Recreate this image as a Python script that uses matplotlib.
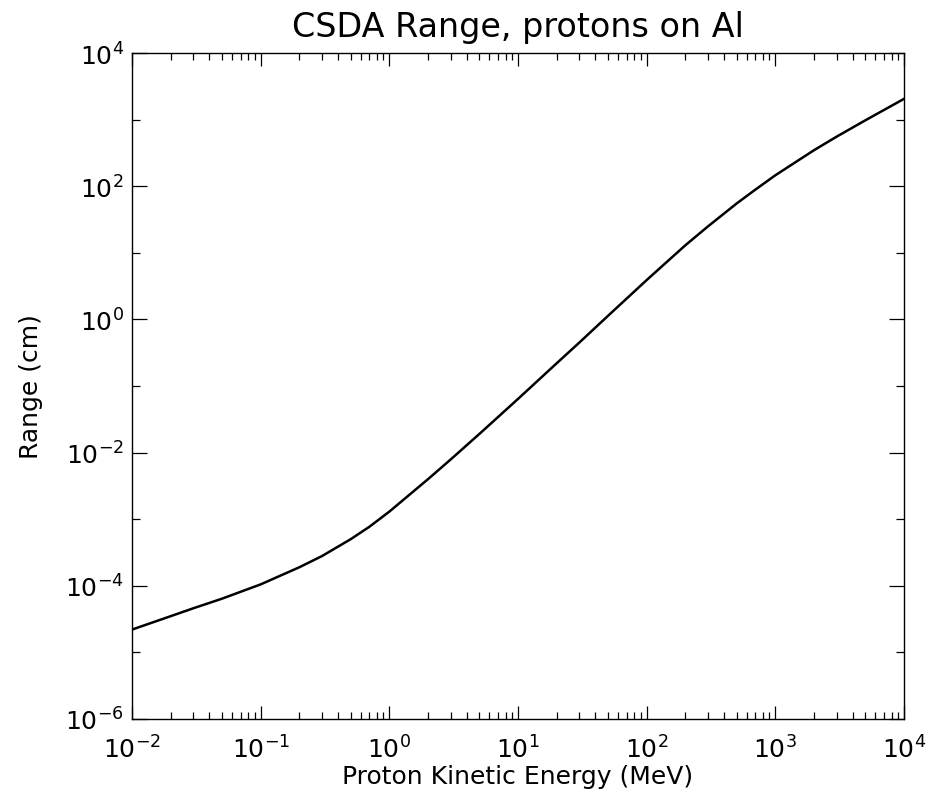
import matplotlib
matplotlib.use("Agg")
import matplotlib.pyplot as plt
from matplotlib.ticker import FixedLocator, LogFormatterSciNotation, NullFormatter

# proton CSDA range in aluminium
energy_mev = [0.01, 0.02, 0.03, 0.05, 0.1, 0.2, 0.3, 0.5, 0.7, 1, 2, 3, 5,
              10, 20, 30, 50, 100, 200, 300, 500, 700, 1000, 2000, 3000,
              5000, 10000]
range_cm = [2.2e-5, 3.5e-5, 4.6e-5, 6.4e-5, 1.05e-4, 1.9e-4, 2.8e-4, 5.0e-4,
            7.7e-4, 1.3e-3, 4.0e-3, 7.9e-3, 1.9e-2, 6.4e-2, 0.22, 0.45, 1.13,
            3.9, 13, 25, 55, 89, 146, 348, 556, 975, 2050]

x_major = [1e-2, 1e-1, 1e0, 1e1, 1e2, 1e3, 1e4]
y_major = [1e-6, 1e-4, 1e-2, 1e0, 1e2, 1e4]
y_minor = [1e-5, 1e-3, 1e-1, 1e1, 1e3]

plt.rcParams["font.family"] = "DejaVu Sans"
plt.rcParams["mathtext.fontset"] = "dejavusans"

fig = plt.figure(figsize=(9.29, 8.04), dpi=100)
ax = fig.add_axes([0.1421, 0.1045, 0.831, 0.8283])

ax.plot(energy_mev, range_cm, color="black", lw=1.8)
ax.set_xscale("log")
ax.set_yscale("log")
ax.set_xlim(1e-2, 1e4)
ax.set_ylim(1e-6, 1e4)

x_minor = [m * d for d in x_major[:-1] for m in range(2, 10)]
ax.xaxis.set_major_locator(FixedLocator(x_major))
ax.xaxis.set_major_formatter(LogFormatterSciNotation(base=10))
ax.xaxis.set_minor_locator(FixedLocator(x_minor))
ax.xaxis.set_minor_formatter(NullFormatter())
ax.yaxis.set_major_locator(FixedLocator(y_major))
ax.yaxis.set_major_formatter(LogFormatterSciNotation(base=10))
ax.yaxis.set_minor_locator(FixedLocator(y_minor))
ax.yaxis.set_minor_formatter(NullFormatter())

ax.tick_params(which="both", direction="in", top=True, right=True,
               width=0.9, labelsize=18)
ax.tick_params(axis="x", which="major", length=9.5, pad=12)
ax.tick_params(axis="x", which="minor", length=4.8)
ax.tick_params(axis="y", which="major", length=11, pad=6)
ax.tick_params(axis="y", which="minor", length=5.5)
for s in ax.spines.values():
    s.set_linewidth(1.0)

ax.set_title("CSDA Range, protons on Al", fontsize=24, pad=12)
ax.set_xlabel("Proton Kinetic Energy (MeV)", fontsize=18, labelpad=1)
ax.set_ylabel("Range (cm)", fontsize=18, labelpad=16)

fig.savefig("out.png", dpi=100)
